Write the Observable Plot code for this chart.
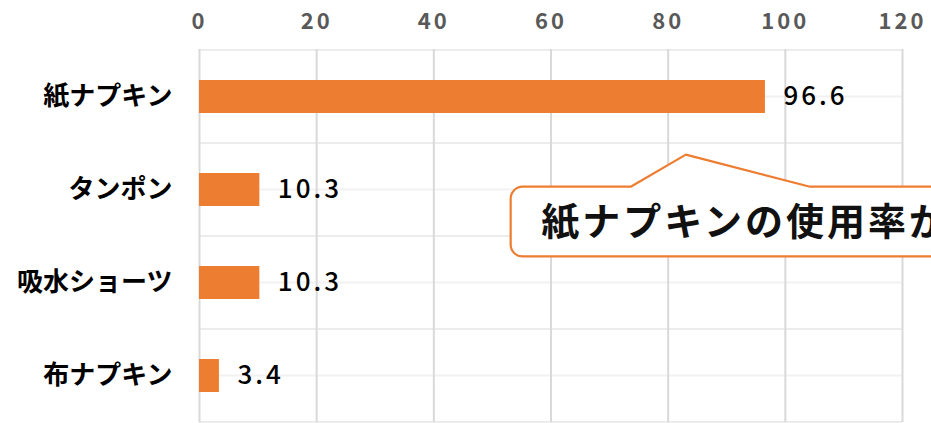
<!DOCTYPE html>
<html><head><meta charset="utf-8">
<script src="https://cdn.jsdelivr.net/npm/d3@7"></script>
<script src="https://cdn.jsdelivr.net/npm/@observablehq/plot@0.6"></script>
<style>
html,body{margin:0;padding:0;background:#fff;overflow:hidden;}
g[aria-label="x-axis tick label"] text{letter-spacing:3px;}
g[aria-label="text"] text{letter-spacing:3px;}
.callout-text{letter-spacing:3px;}
</style></head><body><div id="chart"></div>
<script>
// ---- data ----
const categories = ["紙ナプキン", "タンポン", "吸水ショーツ", "布ナプキン"];
const values = [96.6, 10.3, 10.3, 3.4];
const xTicks = [0, 20, 40, 60, 80, 100, 120];
const calloutText = "紙ナプキンの使用率が";

// callout anchor (data units on x; y relative to the "タンポン" band, in steps)
const calloutCategory = "タンポン";
const calloutLeft = 53.2, calloutBaseL = 73.7, calloutApex = 83.1, calloutBaseR = 104.3;
const calloutTextX = 58.4;

const data = categories.map((c, i) => ({category: c, value: values[i]}));
const orange = "#ED7D31";
const font = '"Noto Sans CJK JP", "Noto Sans", sans-serif';

function centerOf(y, c) {
  const bw = typeof y.bandwidth === "function" ? y.bandwidth() : 0;
  return y(c) + bw / 2;
}
function stepOf(y) {
  return y(categories[1]) - y(categories[0]);
}

// horizontal grid: band centres and band boundaries
function hGrid(index, scales, values, dims) {
  const y = scales.y;
  const step = stepOf(y);
  const g = d3.create("svg:g").attr("aria-label", "h-grid");
  const x1 = dims.marginLeft, x2 = dims.width - dims.marginRight;
  const lines = [];
  categories.forEach((c, i) => {
    const cy = centerOf(y, c);
    lines.push({y: cy, s: "#f2f2f2"});
    lines.push({y: cy - step / 2, s: "#ececec"});
    if (i === categories.length - 1) lines.push({y: cy + step / 2, s: "#ececec"});
  });
  g.selectAll("line").data(lines).join("line")
    .attr("x1", x1).attr("x2", x2)
    .attr("y1", d => d.y).attr("y2", d => d.y)
    .attr("stroke", d => d.s).attr("stroke-width", 2);
  return g.node();
}

function callout(index, scales, values, dims) {
  const x = scales.x, y = scales.y;
  const step = stepOf(y);
  const cy = centerOf(y, calloutCategory);
  const top = cy - 0.03 * step, bottom = cy + 0.72 * step, apexY = cy - 0.375 * step;
  const left = x(calloutLeft), right = dims.width + 40, r = 12;
  const p = d3.path();
  p.moveTo(x(calloutBaseL), top);
  p.lineTo(x(calloutApex), apexY);
  p.lineTo(x(calloutBaseR), top);
  p.lineTo(right, top);
  p.lineTo(right, bottom);
  p.lineTo(left + r, bottom);
  p.arcTo(left, bottom, left, bottom - r, r);
  p.lineTo(left, top + r);
  p.arcTo(left, top, left + r, top, r);
  p.closePath();
  const g = d3.create("svg:g").attr("aria-label", "callout");
  g.append("path").attr("d", p.toString())
    .attr("fill", "white").attr("stroke", orange).attr("stroke-width", 2.2)
    .attr("stroke-linejoin", "round");
  g.append("text").attr("class", "callout-text")
    .attr("x", x(calloutTextX)).attr("y", (top + bottom) / 2)
    .attr("dy", "0.35em")
    .attr("text-anchor", "start")
    .attr("font-size", 38).attr("font-weight", "bold")
    .attr("fill", "#111").attr("font-family", font)
    .text(calloutText);
  return g.node();
}

const chart = Plot.plot({
  width: 931,
  height: 423,
  marginTop: 49,
  marginBottom: 1,
  marginLeft: 199,
  marginRight: 29,
  style: {fontFamily: font, background: "white", overflow: "hidden"},
  x: {domain: [0, 120], ticks: xTicks, axis: null},
  y: {domain: categories, paddingInner: 0.65, paddingOuter: 0.325, axis: null},
  marks: [
    hGrid,
    Plot.ruleX(xTicks, {stroke: "#d9d9d9", strokeWidth: 2}),
    Plot.barX(data, {x: "value", y: "category", fill: orange}),
    Plot.text(data, {
      x: "value", y: "category", text: d => d.value.toFixed(1),
      textAnchor: "start", dx: 18, fontSize: 26, fontWeight: 500, fill: "#000"
    }),
    Plot.axisX({
      anchor: "top", ticks: xTicks, tickSize: 0, tickPadding: 21,
      fontSize: 22, fontWeight: "bold", fill: "#595959", label: null
    }),
    Plot.axisY({
      anchor: "left", tickSize: 0, tickPadding: 27,
      fontSize: 26, fontWeight: "bold", fill: "#000", label: null
    }),
    callout
  ]
});
document.getElementById("chart").appendChild(chart);
</script>
</body></html>
